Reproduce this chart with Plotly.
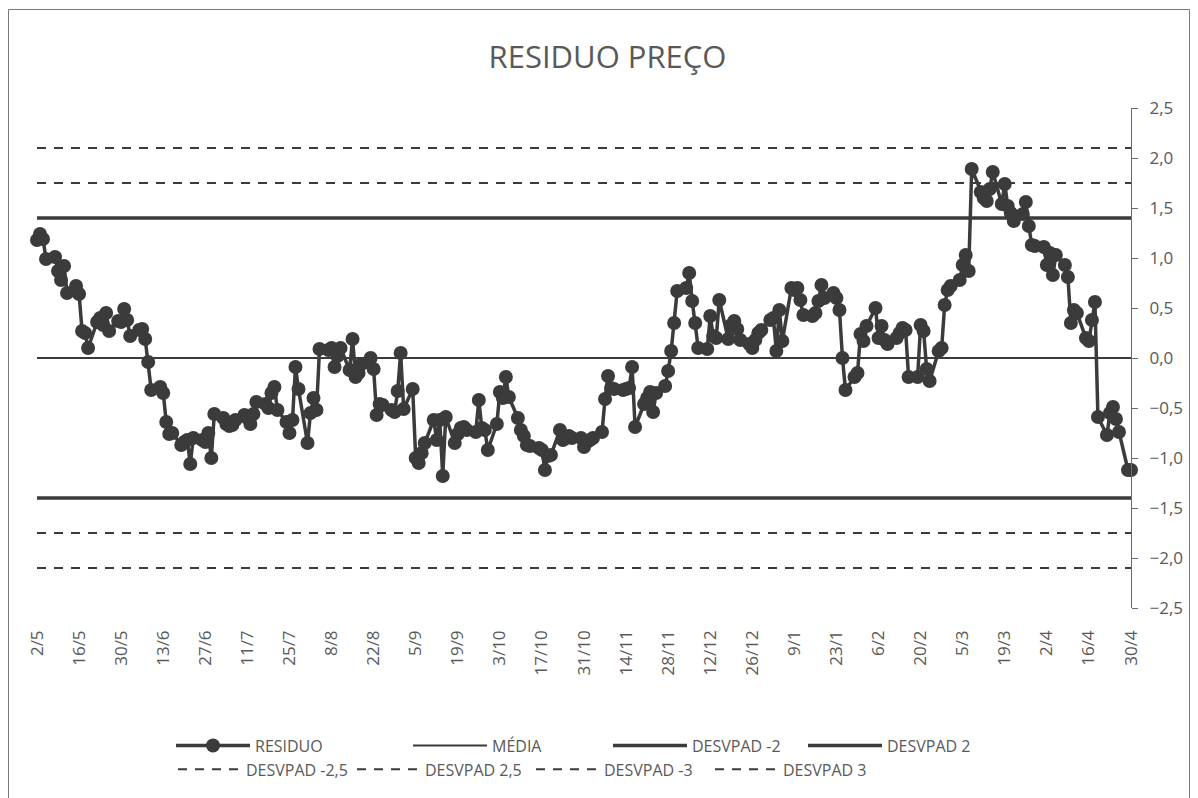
import pandas as pd
import plotly.graph_objects as go

# ---------------- data ----------------
start_date = "2023-05-02"
end_date = "2024-04-30"

residuo = [
    # wk0 (Tue-Fri)
    1.18, 1.24, 1.19, 0.99,
    1.01, 0.87, 0.78, 0.92, 0.65,
    0.72, 0.64, 0.27, 0.25, 0.10,
    0.36, 0.40, 0.33, 0.45, 0.27,
    0.37, 0.36, 0.49, 0.38, 0.22,
    0.28, 0.29, 0.19, -0.04, -0.32,
    -0.29, -0.35, -0.64, -0.76, -0.75,
    -0.87, -0.84, -0.82, -1.06, -0.80,
    -0.82, -0.84, -0.75, -1.00, -0.56,
    -0.60, -0.66, -0.68, -0.67, -0.62,
    -0.57, -0.60, -0.66, -0.56, -0.44,
    -0.46, -0.50, -0.35, -0.29, -0.52,
    -0.64, -0.75, -0.62, -0.09, -0.31,
    -0.85, -0.55, -0.40, -0.52, 0.09,
    0.08, 0.10, -0.09, 0.02, 0.10,
    -0.12, 0.19, -0.19, -0.15, -0.06,
    0.00, -0.11, -0.57, -0.46, -0.47,
    -0.52, -0.54, -0.33, 0.05, -0.51,
    -0.31, -1.00, -1.05, -0.95, -0.85,
    -0.62, -0.82, -0.62, -1.18, -0.59,
    -0.85, -0.76, -0.70, -0.69, -0.72,
    -0.74, -0.42, -0.70, -0.72, -0.92,
    -0.66, -0.34, -0.40, -0.19, -0.39,
    -0.60, -0.72, -0.78, -0.87, -0.88,
    -0.90, -0.92, -1.12, -0.98, -0.97,
    -0.72, -0.82, -0.80, -0.78, -0.80,
    -0.80, -0.89, -0.84, -0.82, -0.80,
    -0.74, -0.41, -0.18, -0.30, -0.31,
    -0.32, -0.31, -0.30, -0.09, -0.69,
    -0.46, -0.40, -0.34, -0.54, -0.35,
    -0.28, -0.13, 0.07, 0.35, 0.67,
    0.70, 0.85, 0.57, 0.35, 0.10,
    0.09, 0.42, 0.22, 0.20, 0.58,
    0.19, 0.33, 0.37, 0.29, 0.18,
    0.14, 0.10, 0.18, 0.25, 0.28,
    0.38, 0.40, 0.07, 0.48, 0.17,
    0.70, 0.68, 0.70, 0.58, 0.43,
    0.42, 0.45, 0.57, 0.73, 0.60,
    0.65, 0.60, 0.48, 0.00, -0.32,
    -0.19, -0.15, 0.24, 0.17, 0.32,
    0.50, 0.20, 0.32, 0.18, 0.14,
    0.20, 0.25, 0.30, 0.28, -0.19,
    -0.19, 0.33, 0.27, -0.11, -0.23,
    0.07, 0.10, 0.53, 0.68, 0.72,
    0.78, 0.93, 1.03, 0.87, 1.89,
    1.66, 1.60, 1.57, 1.69, 1.86,
    1.54, 1.74, 1.52, 1.45, 1.37,
    1.44, 1.56, 1.32, 1.13, 1.12,
    1.11, 0.93, 1.05, 0.83, 1.03,
    0.93, 0.81, 0.35, 0.48, 0.45,
    0.20, 0.17, 0.38, 0.56, -0.59,
    -0.77, -0.55, -0.49, -0.61, -0.74,
    # last (Mon-Tue)
    -1.12, -1.12,
]

media = 0.0
desvpad_2 = 1.40
desvpad_25 = 1.75
desvpad_3 = 2.10

tick_labels = ["2/5", "16/5", "30/5", "13/6", "27/6", "11/7", "25/7", "8/8", "22/8",
               "5/9", "19/9", "3/10", "17/10", "31/10", "14/11", "28/11", "12/12",
               "26/12", "9/1", "23/1", "6/2", "20/2", "5/3", "19/3", "2/4", "16/4", "30/4"]

# ---------------- figure ----------------
dates = pd.bdate_range(start_date, end_date)
assert len(dates) == len(residuo), (len(dates), len(residuo))
tick_vals = pd.date_range(start_date, periods=len(tick_labels), freq="14D")

DARK = "#3b3b3b"
TXT = "#595959"
FONT = "Open Sans"

# page offset (browser body margin)
OFF = 8
W, H = 1190, 790
PL, PR, PT, PB = 37, 1131, 108, 613   # plot area in screen px
L, T = PL - OFF, PT - OFF
R = W - (PR - OFF)
B = H - (PB - OFF)
pw, ph = W - L - R, H - T - B


def px_x(x):
    return (x - PL) / pw


def px_y(y):
    return (PB - y) / ph


fig = go.Figure()
span = [start_date, end_date]


def hline(name, val, width, dash, legend):
    fig.add_trace(go.Scatter(
        x=span, y=[val, val], name=name, mode="lines",
        line=dict(color=DARK, width=width, dash=dash),
        legend=legend, hoverinfo="skip"))


hline("MÉDIA", media, 2, "solid", "legend3")
hline("DESVPAD -2", -desvpad_2, 3.5, "solid", "legend4")
hline("DESVPAD 2", desvpad_2, 3.5, "solid", "legend5")
hline("DESVPAD -2,5", -desvpad_25, 2, "9px,8px", "legend2")
hline("DESVPAD 2,5", desvpad_25, 2, "9px,8px", "legend2")
hline("DESVPAD -3", -desvpad_3, 2, "9px,8px", "legend2")
hline("DESVPAD 3", desvpad_3, 2, "9px,8px", "legend2")

fig.add_trace(go.Scatter(
    x=dates, y=residuo, name="RESIDUO", mode="lines+markers",
    line=dict(color=DARK, width=3.5),
    marker=dict(color=DARK, size=14, symbol="circle"),
    cliponaxis=False, legend="legend"))

ROW1, ROW2 = 752, 776
leg_common = dict(orientation="h", xanchor="left", yanchor="middle",
                  font=dict(size=16, color=TXT, family=FONT),
                  bgcolor="rgba(0,0,0,0)", traceorder="normal")

fig.update_layout(
    width=W, height=H,
    margin=dict(l=L, r=R, t=T, b=B),
    paper_bgcolor="white", plot_bgcolor="white",
    separators=",.",
    font=dict(family=FONT, color=TXT, size=16),
    title=dict(text="RESIDUO PREÇO", x=(607.5 - OFF) / W, xanchor="center",
               y=1 - (57 - OFF) / H, yanchor="middle",
               font=dict(family=FONT, size=31, color=TXT)),
    showlegend=True,
    legend=dict(x=px_x(171), y=px_y(ROW1), itemwidth=74, **leg_common),
    legend3=dict(x=px_x(408), y=px_y(ROW1), itemwidth=74, **leg_common),
    legend4=dict(x=px_x(608), y=px_y(ROW1), itemwidth=74, **leg_common),
    legend5=dict(x=px_x(803), y=px_y(ROW1), itemwidth=74, **leg_common),
    legend2=dict(x=px_x(173), y=px_y(ROW2), itemwidth=63,
                 entrywidth=101, entrywidthmode="pixels", **leg_common),
    xaxis=dict(type="date", range=[start_date, end_date],
               tickmode="array", tickvals=tick_vals, ticktext=tick_labels,
               tickangle=-90, showgrid=False, zeroline=False, showline=False,
               ticks="", ticklabelstandoff=18,
               tickfont=dict(size=17, color=TXT, family=FONT)),
    yaxis=dict(side="right", range=[-2.5, 2.5], dtick=0.5, tick0=0,
               tickformat=".1f", showgrid=False, zeroline=False,
               showline=True, linecolor="#6b6b6b", linewidth=1.2,
               ticks="outside", ticklen=6, tickcolor="#6b6b6b", tickwidth=1.2,
               ticklabelstandoff=8,
               tickfont=dict(size=17, color=TXT, family=FONT)),
    shapes=[dict(type="rect", xref="paper", yref="paper",
                 x0=px_x(8.5), x1=px_x(1189.5), y0=px_y(820), y1=px_y(8.5),
                 line=dict(color="#7a7a7a", width=1), layer="below")],
)

fig.write_html("out.html")
